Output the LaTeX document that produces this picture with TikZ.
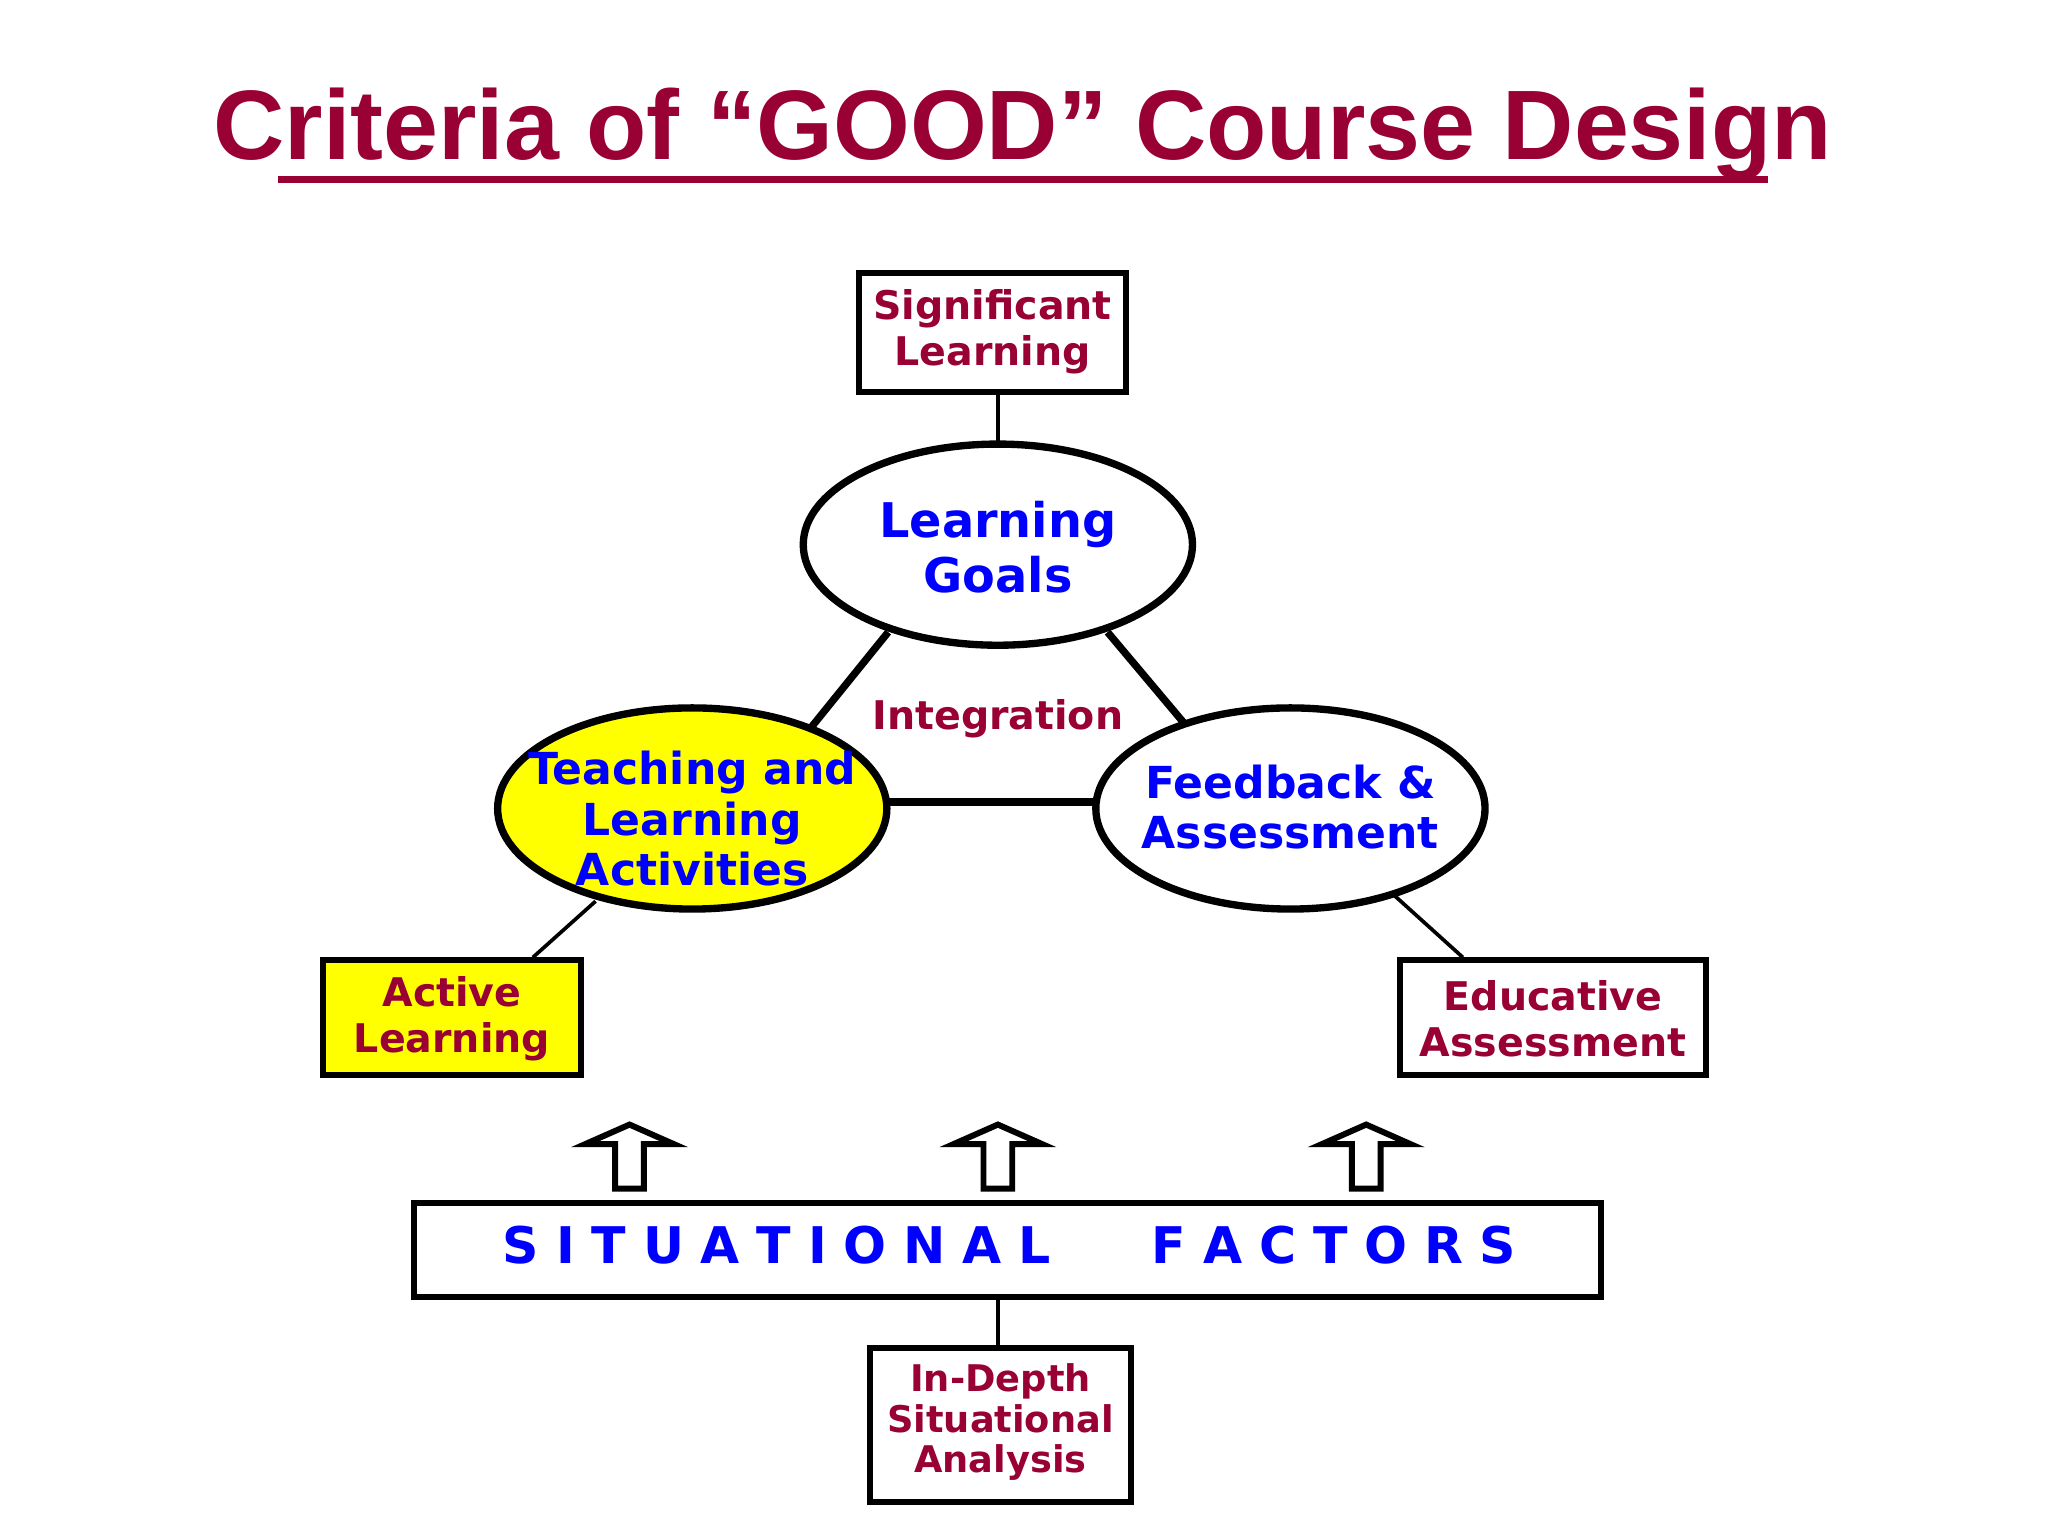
\documentclass[tikz,border=0pt]{standalone}
\usepackage{fontspec}
\setmainfont{DejaVu Sans}
\newfontfamily\titlefont{Liberation Sans}
\usetikzlibrary{shapes.geometric}
\definecolor{dred}{HTML}{990033}
\definecolor{dblue}{HTML}{0000FF}
\definecolor{yel}{HTML}{FFFF00}
\begin{document}
\begin{tikzpicture}[x=0.01cm,y=-0.01cm,
  box/.style={draw,line width=1.3pt,fill=white,inner sep=0pt},
  ell/.style={draw,ellipse,line width=1.6pt,fill=white,minimum width=298\pgflinewidth,inner sep=0pt},
  rtext/.style={text=dred,font=\bfseries\fontsize{8.6}{10.2}\selectfont,align=center},
  btext/.style={text=dblue,font=\bfseries\fontsize{9.6}{11}\selectfont,align=center},
  conn/.style={line width=0.8pt},
  thk/.style={line width=1.6pt},
  uparrow/.style={draw,line width=1.3pt,fill=white}]
\useasboundingbox (0,0) rectangle (1568,1176);
% title
\node[text=dred,font=\titlefont\bfseries\fontsize{21.5}{24}\selectfont] (title) at (783,103) {Criteria of “GOOD” Course Design};
\fill[dred] (213,135) rectangle (1354,140);
% top box
\draw[box] (658,209) rectangle (862,300);
\node[rtext] (sig) at (760,254) {Significant\\Learning};
% ellipses
\draw[thk,fill=white] (764,417) ellipse (149 and 77);
\node[btext,font=\bfseries\fontsize{10.4}{12}\selectfont] (lg) at (764,419) {Learning\\Goals};
\draw[thk,fill=yel] (530,619) ellipse (149 and 77);
\node[btext] (tla) at (530,627) {Teaching and\\Learning\\Activities};
\draw[thk,fill=white] (988,619) ellipse (149 and 77);
\node[btext] (fa) at (988,618) {Feedback \&\\Assessment};
\coordinate (s1) at (764,300); \coordinate (s2) at (764,340);
\draw[conn] (s1) -- (s2);
\coordinate (a1) at (680,484); \coordinate (a2) at (621,557);
\coordinate (b1) at (848,484); \coordinate (b2) at (906,553);
\coordinate (c1) at (680,614); \coordinate (c2) at (840,614);
\draw[thk] (a1)--(a2); \draw[thk] (b1)--(b2); \draw[thk] (c1)--(c2);
\node[rtext] (int) at (764,550) {Integration};
% side boxes
\draw[box,fill=yel] (247,735) rectangle (445,823);
\node[rtext] (al) at (346,780) {Active\\Learning};
\coordinate (d1) at (456,690); \coordinate (d2) at (408,733);
\draw[conn] (d1)--(d2);
\draw[box] (1072,735) rectangle (1306,823);
\node[rtext] (ea) at (1189,780) {Educative\\Assessment};
\coordinate (e1) at (1068,686); \coordinate (e2) at (1120,733);
\draw[conn] (e1)--(e2);
% arrows
\foreach \x in {482,764,1046}{
  \draw[uparrow] (\x-11,910) -- (\x-11,876) -- (\x-34,876) -- (\x,861) -- (\x+34,876) -- (\x+11,876) -- (\x+11,910) -- cycle;}
% situational factors
\draw[box] (317,921) rectangle (1226,993);
\node[btext,font=\bfseries\fontsize{11}{13}\selectfont] (sf) at (773,953) {S\,\,I\,\,T\,\,U\,\,A\,\,T\,\,I\,\,O\,\,N\,\,A\,\,L\qquad F\,\,A\,\,C\,\,T\,\,O\,\,R\,\,S};
\coordinate (f1) at (764,993); \coordinate (f2) at (764,1032);
\draw[conn] (f1)--(f2);
\draw[box] (666,1032) rectangle (866,1150);
\node[rtext,font=\bfseries\fontsize{8}{8.8}\selectfont] (ida) at (766,1089) {In-Depth\\Situational\\Analysis};
\end{tikzpicture}
\end{document}
